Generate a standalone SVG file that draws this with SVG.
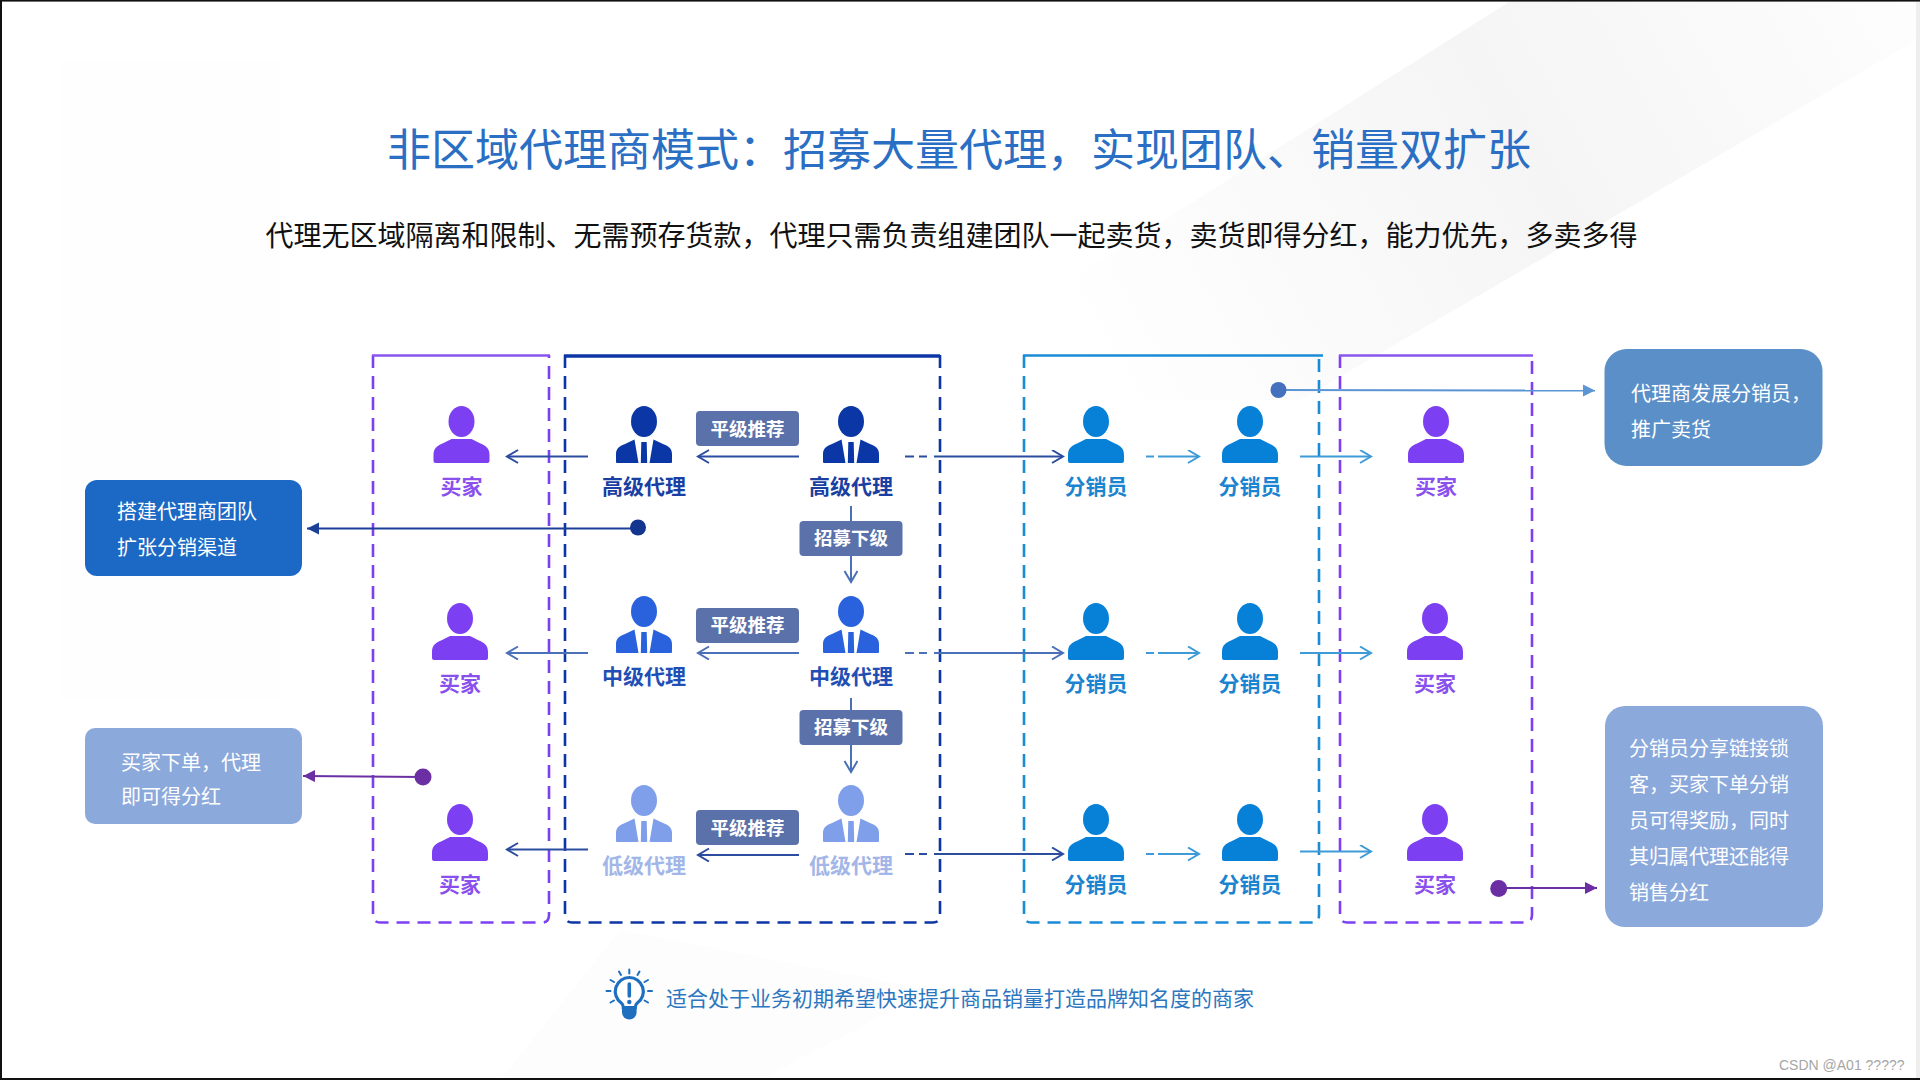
<svg xmlns="http://www.w3.org/2000/svg" xmlns:xlink="http://www.w3.org/1999/xlink" width="1920" height="1080" viewBox="0 0 1920 1080">
<style>
text{font-family:"Noto Sans CJK SC","Noto Sans",sans-serif}
.lab{font-size:21px;font-weight:700;text-anchor:middle}
.buy{fill:#7c40f2}.buyt{fill:#8a50ee}
.hi{fill:#0b37a6}.hit{fill:#1a3fa3}
.mid{fill:#2a62dd}.midt{fill:#1f4fb5}
.lo{fill:#7f9fea}.lot{fill:#a3b6e8}
.dis{fill:#0780d8}.dist{fill:#1b84d0}
.badge{fill:#5a71aa}
.bt{font-size:18.5px;font-weight:700;fill:#fff;text-anchor:middle}
.note{font-size:20px;fill:#fff}
.frame{fill:none;stroke-width:2.6;stroke-dasharray:13 8}
.top{fill:none}
.c{fill:none;stroke-width:2}
</style>
<defs>
<linearGradient id="band" gradientUnits="userSpaceOnUse" x1="1900" y1="0" x2="1130" y2="440">
<stop offset="0" stop-color="#fdfdfd"/><stop offset="0.45" stop-color="#f5f5f6"/><stop offset="1" stop-color="#ffffff"/>
</linearGradient>
<g id="person"><ellipse cx="0" cy="15.5" rx="13" ry="15.5"/><path d="M-28,55V49C-28,42-24,39.5-19,37.5L-10,33H10L19,37.5C24,39.5 28,42 28,49V55Q28,57 26,57H-26Q-28,57-28,55Z"/></g>
<g id="agent"><ellipse cx="0" cy="15.5" rx="13" ry="15.5"/><path d="M-28,56V48C-28,42-24,40-19,38L-9.5,33.5L-5.5,57H-27Q-28,57-28,56Z"/><path d="M28,56V48C28,42 24,40 19,38L9.5,33.5L5.5,57H27Q28,57 28,56Z"/><path d="M-2.7,36H2.7L3.2,57H-3.2Z"/></g>
<marker id="aN" markerUnits="userSpaceOnUse" markerWidth="14" markerHeight="16" refX="12" refY="7" orient="auto"><path d="M1,0.5L12,7L1,13.5" fill="none" stroke="#2b4c9f" stroke-width="2"/></marker>
<marker id="aB" markerUnits="userSpaceOnUse" markerWidth="14" markerHeight="16" refX="12" refY="7" orient="auto"><path d="M1,0.5L12,7L1,13.5" fill="none" stroke="#4a70b8" stroke-width="2"/></marker>
<marker id="aS" markerUnits="userSpaceOnUse" markerWidth="14" markerHeight="16" refX="12" refY="7" orient="auto"><path d="M1,0.5L12,7L1,13.5" fill="none" stroke="#3f9ad8" stroke-width="2"/></marker>
<marker id="fN" markerUnits="userSpaceOnUse" markerWidth="13" markerHeight="13" refX="12" refY="6" orient="auto"><path d="M0,0L12,6L0,12Z" fill="#1c3f98"/></marker>
<marker id="fS" markerUnits="userSpaceOnUse" markerWidth="13" markerHeight="13" refX="12" refY="6" orient="auto"><path d="M0,0L12,6L0,12Z" fill="#5b95d4"/></marker>
<marker id="fP" markerUnits="userSpaceOnUse" markerWidth="13" markerHeight="13" refX="12" refY="6" orient="auto"><path d="M0,0L12,6L0,12Z" fill="#6b2fa3"/></marker>
</defs>

<rect width="1920" height="1080" fill="#fff"/>
<g id="background">
<path d="M1512,0L1920,0V38L1300,400H880Z" fill="url(#band)"/>
<path d="M930,990L760,1080H500L620,930Z" fill="#fdfdfd"/>
<rect x="60" y="60" width="220" height="640" fill="#fefefe"/>
</g>

<text id="title" x="387" y="166" font-size="44" fill="#2a6fc4">非区域代理商模式：招募大量代理，实现团队、销量双扩张</text>
<text id="subtitle" x="265.5" y="246" font-size="28" fill="#111">代理无区域隔离和限制、无需预存货款，代理只需负责组建团队一起卖货，卖货即得分红，能力优先，多卖多得</text>

<g id="frames">
<path class="frame" stroke="#7c40f2" d="M373,355V915Q373,922.5 380,922.5H542Q549,922.5 549,915V355"/>
<path class="top" stroke="#8a55ee" stroke-width="2.6" d="M372,355.5H550"/>
<path class="frame" stroke="#0c35a5" d="M565,355V915Q565,922.5 572,922.5H933Q940,922.5 940,915V355"/>
<path class="top" stroke="#0c35a5" stroke-width="3.5" d="M564,356H940"/>
<path class="frame" stroke="#1a8bd6" d="M1024,355V915Q1024,922.5 1031,922.5H1312Q1319,922.5 1319,915V355"/>
<path class="top" stroke="#1a8bd6" stroke-width="2.6" d="M1023,355.5H1323"/>
<path class="frame" stroke="#7c40f2" d="M1340,355V915Q1340,922.5 1347,922.5H1525Q1532,922.5 1532,915V355"/>
<path class="top" stroke="#8a55ee" stroke-width="2.6" d="M1339,355.5H1533"/>
</g>

<g id="connectors">
<path class="c" stroke="#2b4c9f" marker-end="url(#aN)" d="M588,456.5H507"/>
<path class="c" stroke="#2b4c9f" marker-end="url(#aN)" d="M799,456.5H698"/>
<path class="c" stroke="#2b4c9f" stroke-dasharray="9 5 8 7" d="M905,456.5H934"/>
<path class="c" stroke="#2b4c9f" marker-end="url(#aN)" d="M934,456.5H1063"/>
<path class="c" stroke="#3f9ad8" stroke-dasharray="8 5" d="M1146,456.5H1158"/>
<path class="c" stroke="#3f9ad8" marker-end="url(#aS)" d="M1158,456.5H1199"/>
<path class="c" stroke="#3f9ad8" marker-end="url(#aS)" d="M1300,456.5H1371"/>
<path class="c" stroke="#4a70b8" marker-end="url(#aB)" d="M851,506V582"/>

<path class="c" stroke="#4a70b8" marker-end="url(#aB)" d="M588,653H507"/>
<path class="c" stroke="#4a70b8" marker-end="url(#aB)" d="M799,653H698"/>
<path class="c" stroke="#4a70b8" stroke-dasharray="9 5 8 7" d="M905,653H934"/>
<path class="c" stroke="#4a70b8" marker-end="url(#aB)" d="M934,653H1063"/>
<path class="c" stroke="#3f9ad8" stroke-dasharray="8 5" d="M1146,653H1158"/>
<path class="c" stroke="#3f9ad8" marker-end="url(#aS)" d="M1158,653H1199"/>
<path class="c" stroke="#3f9ad8" marker-end="url(#aS)" d="M1300,653H1371"/>
<path class="c" stroke="#4a70b8" marker-end="url(#aB)" d="M851,698V772"/>

<path class="c" stroke="#2b4c9f" marker-end="url(#aN)" d="M588,849.5H507"/>
<path class="c" stroke="#2b4c9f" marker-end="url(#aN)" d="M799,855H698"/>
<path class="c" stroke="#2b4c9f" stroke-dasharray="9 5 8 7" d="M905,854H934"/>
<path class="c" stroke="#2b4c9f" marker-end="url(#aN)" d="M934,854H1063"/>
<path class="c" stroke="#3f9ad8" stroke-dasharray="8 5" d="M1146,854H1158"/>
<path class="c" stroke="#3f9ad8" marker-end="url(#aS)" d="M1158,854H1199"/>
<path class="c" stroke="#3f9ad8" marker-end="url(#aS)" d="M1300,851.5H1371"/>

<path class="c" stroke="#1c3f98" stroke-width="2.4" marker-end="url(#fN)" d="M638,528.5H307"/>
<circle cx="638" cy="527.5" r="8" fill="#14358f"/>
<path class="c" stroke="#6b2fa3" stroke-width="2.4" marker-end="url(#fP)" d="M423,777L303,776"/>
<circle cx="423" cy="777" r="8.5" fill="#6b2fa3"/>
<path class="c" stroke="#5b95d4" stroke-width="2.4" marker-end="url(#fS)" d="M1278,390L1595,390.5"/>
<circle cx="1278.5" cy="390" r="8" fill="#4470bd"/>
<path class="c" stroke="#6b2fa3" stroke-width="2.4" marker-end="url(#fP)" d="M1499,888H1597"/>
<circle cx="1498.7" cy="888.5" r="8.5" fill="#6b2fa3"/>
</g>

<g id="buyer-l1" class="buy"><use xlink:href="#person" href="#person" x="461.5" y="406"/><text class="lab buyt" x="461.5" y="494">买家</text></g>
<g id="buyer-l2" class="buy"><use xlink:href="#person" href="#person" x="460" y="603"/><text class="lab buyt" x="460" y="690.5">买家</text></g>
<g id="buyer-l3" class="buy"><use xlink:href="#person" href="#person" x="460" y="804"/><text class="lab buyt" x="460" y="891.5">买家</text></g>

<g id="agent-high-a" class="hi"><use xlink:href="#agent" href="#agent" x="644" y="406"/><text class="lab hit" x="644" y="494">高级代理</text></g>
<g id="agent-high-b" class="hi"><use xlink:href="#agent" href="#agent" x="851" y="406"/><text class="lab hit" x="851" y="494">高级代理</text></g>
<g id="agent-mid-a" class="mid"><use xlink:href="#agent" href="#agent" x="644" y="596"/><text class="lab midt" x="644" y="683.5">中级代理</text></g>
<g id="agent-mid-b" class="mid"><use xlink:href="#agent" href="#agent" x="851" y="596"/><text class="lab midt" x="851" y="683.5">中级代理</text></g>
<g id="agent-low-a" class="lo"><use xlink:href="#agent" href="#agent" x="644" y="785"/><text class="lab lot" x="644" y="873">低级代理</text></g>
<g id="agent-low-b" class="lo"><use xlink:href="#agent" href="#agent" x="851" y="785"/><text class="lab lot" x="851" y="873">低级代理</text></g>

<g id="badge-peer-1"><rect class="badge" x="696" y="411" width="103" height="35" rx="4"/><text class="bt" x="747.5" y="435.5">平级推荐</text></g>
<g id="badge-peer-2"><rect class="badge" x="696" y="608" width="103" height="35" rx="4"/><text class="bt" x="747.5" y="632">平级推荐</text></g>
<g id="badge-peer-3"><rect class="badge" x="696" y="810" width="103" height="35" rx="4"/><text class="bt" x="747.5" y="834.5">平级推荐</text></g>
<g id="badge-recruit-1"><rect class="badge" x="799.5" y="521" width="103" height="35" rx="4"/><text class="bt" x="851" y="545">招募下级</text></g>
<g id="badge-recruit-2"><rect class="badge" x="799.5" y="710" width="103" height="35" rx="4"/><text class="bt" x="851" y="734">招募下级</text></g>

<g id="dist-1a" class="dis"><use xlink:href="#person" href="#person" x="1096" y="406"/><text class="lab dist" x="1096" y="494">分销员</text></g>
<g id="dist-1b" class="dis"><use xlink:href="#person" href="#person" x="1250" y="406"/><text class="lab dist" x="1250" y="494">分销员</text></g>
<g id="dist-2a" class="dis"><use xlink:href="#person" href="#person" x="1096" y="603"/><text class="lab dist" x="1096" y="690.5">分销员</text></g>
<g id="dist-2b" class="dis"><use xlink:href="#person" href="#person" x="1250" y="603"/><text class="lab dist" x="1250" y="690.5">分销员</text></g>
<g id="dist-3a" class="dis"><use xlink:href="#person" href="#person" x="1096" y="804"/><text class="lab dist" x="1096" y="892">分销员</text></g>
<g id="dist-3b" class="dis"><use xlink:href="#person" href="#person" x="1250" y="804"/><text class="lab dist" x="1250" y="892">分销员</text></g>

<g id="buyer-r1" class="buy"><use xlink:href="#person" href="#person" x="1436" y="406"/><text class="lab buyt" x="1436" y="494">买家</text></g>
<g id="buyer-r2" class="buy"><use xlink:href="#person" href="#person" x="1435" y="603"/><text class="lab buyt" x="1435" y="690.5">买家</text></g>
<g id="buyer-r3" class="buy"><use xlink:href="#person" href="#person" x="1435" y="804"/><text class="lab buyt" x="1435" y="891.5">买家</text></g>

<g id="note-team"><rect x="85" y="480" width="217" height="96" rx="12" fill="#1b69c4"/><text class="note" x="117" y="519">搭建代理商团队</text><text class="note" x="117" y="554.5">扩张分销渠道</text></g>
<g id="note-order"><rect x="85" y="728" width="217" height="96" rx="10" fill="#8ca9dc"/><text class="note" x="121" y="770">买家下单，代理</text><text class="note" x="121" y="804">即可得分红</text></g>
<g id="note-dist"><rect x="1604.5" y="349" width="218" height="117" rx="22" fill="#5b8fc8"/><text class="note" x="1631" y="400.5">代理商发展分销员，</text><text class="note" x="1631" y="436.5">推广卖货</text></g>
<g id="note-share"><rect x="1605" y="706" width="218" height="221" rx="20" fill="#8ca9dc"/><text class="note" x="1629" y="756">分销员分享链接锁</text><text class="note" x="1629" y="792">客，买家下单分销</text><text class="note" x="1629" y="828">员可得奖励，同时</text><text class="note" x="1629" y="864">其归属代理还能得</text><text class="note" x="1629" y="899.5">销售分红</text></g>

<g id="tip">
<path d="M629.3,977.5a14,14 0 0 1 8,25.5c-1.5,1.2-2,2.5-2,4.5h-12c0-2-.5-3.3-2-4.5a14,14 0 0 1 8-25.5Z" fill="#fff" stroke="#1f6fc0" stroke-width="3.2"/>
<path d="M622,1008.5h14.6v4a7.3,7 0 0 1-14.6,0Z" fill="#1f6fc0"/>
<path d="M629.3,984v12" stroke="#1f6fc0" stroke-width="3.6" stroke-linecap="round"/>
<circle cx="629.3" cy="1002" r="2.2" fill="#1f6fc0"/>
<path d="M629.3,969.5v4M619,971.5l2,3.5M639.5,971.5l-2,3.5M610.5,980l3.5,2M648,980l-3.5,2M606.5,991h4M648,991h4M610.5,1002.5l3.5-2M648,1002.5l-3.5-2" stroke="#1f6fc0" stroke-width="2" stroke-linecap="round" fill="none"/>
<text x="666" y="1005.5" font-size="21" fill="#2c76c0">适合处于业务初期希望快速提升商品销量打造品牌知名度的商家</text>
</g>

<text id="watermark" x="1779" y="1070" font-size="14" fill="#a6a6a6" style="font-family:'Liberation Sans',sans-serif">CSDN @A01 ?????</text>

<g id="border">
<rect x="0" y="0" width="1920" height="1.6" fill="#111"/>
<rect x="0" y="0" width="2" height="1080" fill="#111"/>
<rect x="0" y="1078" width="1920" height="2" fill="#111"/>
<rect x="1916" y="2" width="4" height="1076" fill="#eeeeee"/>
</g>
</svg>
